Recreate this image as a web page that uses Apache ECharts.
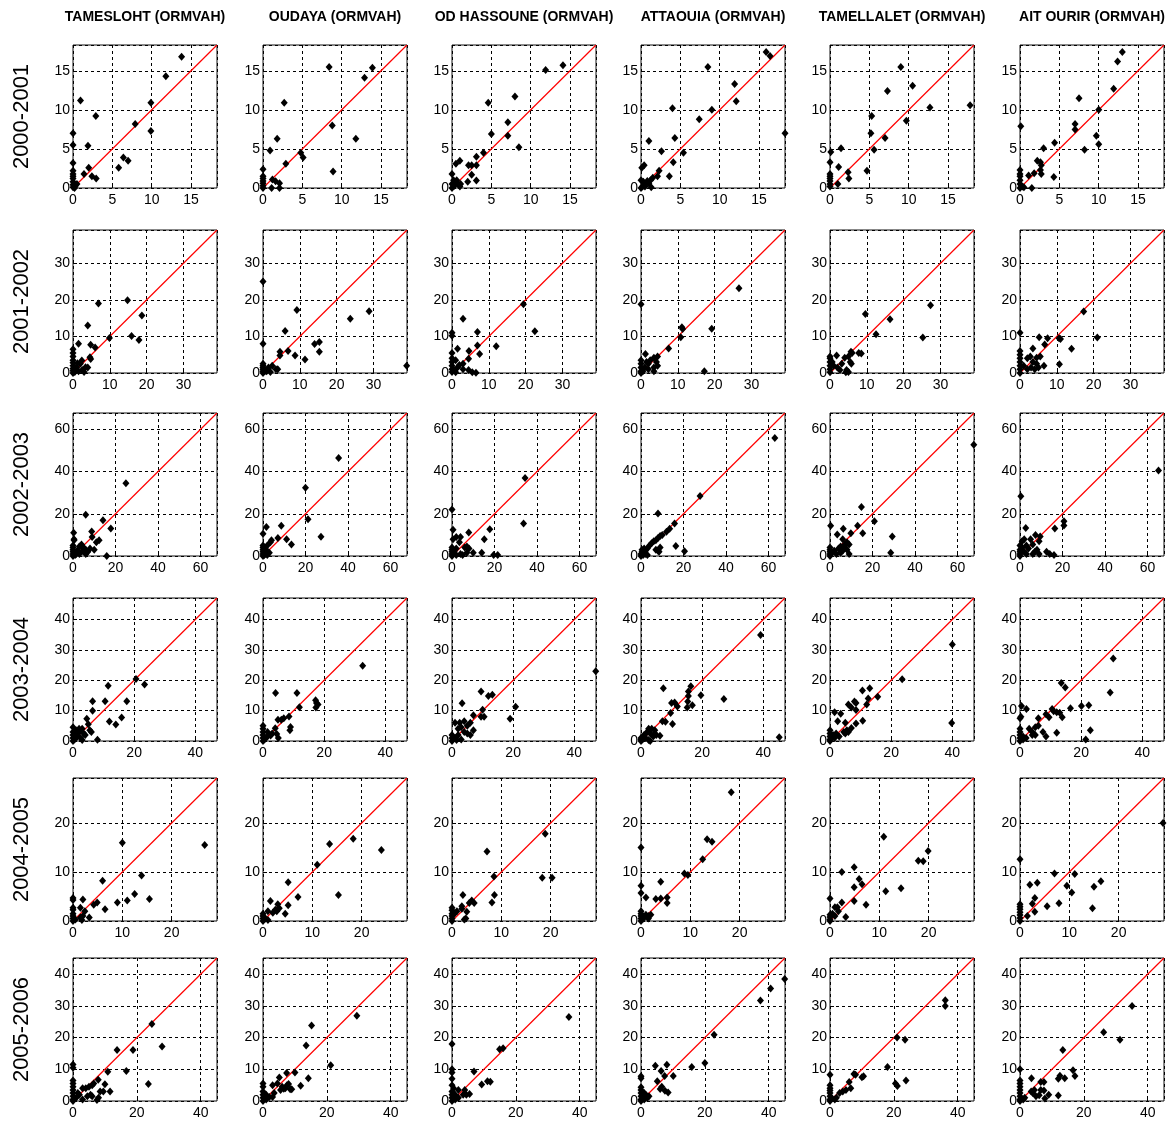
<!DOCTYPE html>
<html>
<head>
<meta charset="utf-8">
<script src="https://cdn.jsdelivr.net/npm/echarts@6/dist/echarts.min.js"></script>
<style>
html,body{margin:0;padding:0;background:#fff;}
#chart{width:1173px;height:1124px;}
</style>
</head>
<body>
<div id="chart"></div>
<script>
// ---- labels ----
const stations = ['TAMESLOHT (ORMVAH)','OUDAYA (ORMVAH)','OD HASSOUNE (ORMVAH)','ATTAOUIA (ORMVAH)','TAMELLALET (ORMVAH)','AIT OURIR (ORMVAH)'];
const years = ['2000-2001','2001-2002','2002-2003','2003-2004','2004-2005','2005-2006'];
// axis extent per row and tick steps
const axisMax = [18.3, 39.1, 67.8, 47.1, 29.2, 45.1];
const xTickStep = [5, 10, 20, 20, 10, 20];
const yTickStep = [5, 10, 20, 10, 10, 10];

// ---- 2000-2001 ----
const TAM_0001 = [[13.8,16.8],[11.8,14.3],[0.95,11.2],[2.9,9.2],[7.9,8.2],[9.9,10.9],[9.9,7.3],[0,7.0],[0,5.5],[1.9,5.4],[5.8,2.6],[6.4,3.9],[7.0,3.5],[2.0,2.6],[2.4,1.5],[2.95,1.2],[1.4,1.8],[0,3.2],[0,2.2],[0,1.8],[0,1.5],[0,1.2],[0,0.8],[0,0.4],[0,0.1],[0.3,0.3],[0.5,0.5],[0.2,0]];
const OUD_0001 = [[8.4,15.5],[13.9,15.4],[12.9,14.1],[2.7,10.9],[8.8,8.0],[11.8,6.3],[8.9,2.1],[1.8,6.3],[0.9,4.8],[4.8,4.5],[5.1,3.9],[2.9,3.1],[1.2,1.1],[1.6,0.85],[2.1,0.6],[2.1,0],[1.1,0],[0,2.4],[0,1.5],[0,1.2],[0,0.9],[0,0.6],[0,0.3],[0,0]];
const ODH_0001 = [[11.9,15.1],[14.1,15.7],[4.6,10.9],[8.0,11.7],[7.1,8.4],[7.1,6.7],[8.5,5.2],[5.0,6.9],[4.0,4.5],[3.1,4.0],[3.1,2.9],[2.1,2.9],[2.5,2.9],[2.5,1.7],[2.0,0.8],[3.1,0.95],[0.5,3.1],[1.0,3.5],[0,1.8],[0.2,1.0],[0.5,0.8],[0.8,0.5],[1.0,0.2],[0.3,0.3],[0.6,1.0],[0,0.5],[0,0],[1.1,0.5]];
const ATT_0001 = [[15.9,17.4],[16.4,16.9],[8.5,15.5],[11.9,13.3],[12.1,11.1],[4.0,10.2],[9.0,10.0],[7.4,8.8],[18.3,7.0],[4.3,6.4],[1.0,6.0],[2.6,4.7],[5.4,4.5],[4.1,3.3],[3.6,1.5],[2.3,2.2],[2.1,1.5],[0.4,2.9],[0.1,2.6],[0,1.0],[0.3,0.8],[0.6,0.5],[0.8,0.9],[1.0,0.6],[1.2,1.0],[1.5,1.3],[1.3,0.1],[0.5,0.2],[0.2,0.2],[0,0]];
const TML_0001 = [[9.0,15.5],[7.3,12.4],[10.5,13.1],[12.7,10.3],[17.8,10.6],[9.7,8.6],[5.3,9.2],[5.2,7.0],[7.0,6.4],[5.6,4.9],[1.4,5.1],[0.1,4.6],[0,3.3],[1.1,2.7],[4.7,2.2],[2.3,2.0],[2.4,1.2],[1.0,0.5],[0,1.8],[0,1.5],[0,1.2],[0,0.9],[0,0.5],[0,0.2]];
const AIT_0001 = [[13.0,17.4],[12.4,16.2],[11.9,12.7],[7.5,11.5],[10.0,10.0],[7.0,8.2],[7.0,7.5],[9.7,6.7],[10.0,5.6],[8.2,4.9],[0.1,7.9],[4.4,5.8],[3.0,5.1],[2.2,3.5],[2.6,3.3],[2.7,2.9],[2.6,2.3],[2.7,1.8],[4.3,1.4],[1.8,1.9],[1.1,1.6],[1.5,0],[0,2.3],[0,1.8],[0,1.5],[0,1.0],[0,0.5],[0.3,0.2],[0.5,0.1],[0,0]];

// ---- 2001-2002 ----
const TAM_0102 = [[6.9,19.0],[14.8,19.9],[18.7,15.7],[15.9,10.1],[17.9,9.0],[9.9,9.6],[4.0,13.0],[1.5,8.0],[4.8,7.7],[6.0,7.0],[4.6,4.3],[4.8,3.8],[2.4,3.4],[3.4,1.6],[4.0,1.5],[2.0,2.5],[1.2,2.7],[1.0,1.5],[2.5,0.8],[1.5,0.5],[3.0,0.3],[0,6.5],[0,5.5],[0,4.5],[0,3.5],[0,2.8],[0,2.0],[0,1.2],[0,0.6],[0.5,0.3],[0.3,1.0],[0,0]];
const OUD_0102 = [[0,25.0],[9.2,17.2],[28.8,16.9],[23.7,14.8],[6.0,11.5],[0,8.0],[14.0,7.9],[15.3,8.5],[15.3,5.8],[6.8,6.0],[4.6,5.8],[4.6,4.8],[8.7,4.8],[11.4,3.7],[39.0,2.0],[2.5,2.0],[3.5,1.0],[1.5,1.5],[1.0,0.5],[2.0,0.3],[0,2.5],[0,2.0],[0,1.5],[0,1.0],[0,0.5],[0.5,0.5],[0,0],[4.0,1.0]];
const ODH_0102 = [[3.0,14.8],[19.4,18.8],[22.5,11.4],[0,11.0],[0,10.2],[6.9,11.2],[6.9,7.5],[12.0,7.3],[1.5,6.6],[4.6,6.0],[7.5,5.2],[4.5,3.9],[0,5.5],[1.0,3.5],[2.0,2.2],[3.0,2.5],[4.5,0.8],[5.5,0.2],[6.5,0.1],[3.0,1.0],[1.5,1.5],[0,4.0],[0,3.0],[0,2.0],[0,1.0],[0,0.3],[0.5,0.8],[1.0,0.2]];
const ATT_0102 = [[0,18.8],[26.6,23.2],[19.2,12.1],[11.1,12.5],[11.3,12.0],[10.8,9.8],[7.5,6.7],[17.2,0.5],[1.2,5.2],[4.5,4.5],[3.5,4.2],[4.2,3.0],[4.5,2.0],[3.5,1.5],[3.5,0.5],[2.5,3.5],[2.0,2.5],[1.5,3.0],[1.0,1.5],[2.0,1.0],[0.5,0.5],[0,3.5],[0,2.5],[0,1.5],[0,0.5],[0,0]];
const TML_0102 = [[9.6,16.1],[16.3,14.7],[27.3,18.5],[12.5,10.6],[25.2,9.7],[5.7,5.8],[7.8,5.5],[8.5,5.3],[1.8,4.8],[4.0,4.2],[5.0,4.5],[3.2,2.5],[2.0,1.5],[2.7,0.8],[4.5,0.8],[4.3,0.2],[5.0,0.3],[5.5,3.0],[5.8,2.5],[6.0,5.5],[0,4.5],[0,4.0],[0,3.0],[0,2.0],[0,1.0],[0,0.2],[1.0,2.0],[0.6,3.0]];
const AIT_0102 = [[0,11.0],[17.3,16.8],[21.0,9.7],[14.0,6.6],[10.6,9.5],[11.0,9.3],[10.7,2.4],[7.5,9.5],[5.2,9.8],[6.7,7.8],[3.5,6.7],[5.5,4.5],[4.5,4.2],[2.8,4.5],[2.0,4.0],[3.5,3.0],[4.5,2.5],[5.0,1.5],[6.5,2.0],[3.0,1.5],[2.0,1.0],[1.0,2.0],[4.0,1.0],[0,6.0],[0,5.0],[0,4.0],[0,3.0],[0,2.0],[0,1.0],[0,0]];

// ---- 2002-2003 ----
const TAM_0203 = [[24.9,34.5],[6.0,19.6],[14.1,17.0],[17.8,13.0],[8.8,11.6],[9.0,9.0],[12.3,7.5],[11.0,6.5],[15.9,0],[0.3,11.0],[0.5,8.0],[0.5,7.5],[3.0,4.5],[4.0,5.5],[5.0,4.0],[6.0,3.0],[7.0,2.0],[2.0,2.5],[1.5,1.0],[3.0,1.0],[6.0,1.0],[4.5,2.5],[8.0,3.5],[10.0,3.0],[0,5.0],[0,4.0],[0,3.0],[0,2.0],[0,1.0],[0,0],[1.0,0.5]];
const OUD_0203 = [[35.6,46.5],[20.0,32.3],[21.2,17.4],[27.3,9.1],[8.6,14.3],[1.6,13.8],[0,10.5],[11.1,8.0],[13.4,5.5],[7.0,8.5],[4.0,7.5],[3.5,6.5],[2.0,5.0],[1.5,3.0],[3.0,1.5],[1.0,1.0],[2.0,0.5],[0.5,0.3],[0,5.0],[0,4.0],[0,3.0],[0,2.0],[0,1.0],[0,0]];
const ODH_0203 = [[0,22.0],[34.4,37.0],[33.7,15.4],[17.8,12.7],[15.2,8.0],[7.9,11.1],[0.5,12.5],[0.5,8.0],[2.0,9.0],[4.0,9.0],[3.5,6.5],[6.0,4.0],[7.0,4.5],[8.0,3.5],[2.0,3.5],[1.0,2.0],[4.0,1.0],[7.0,1.5],[10.0,1.5],[14.0,1.5],[19.6,0.5],[21.5,0.5],[0,4.0],[0,3.0],[0,2.0],[0,1.0],[0,0],[2.0,0.5],[5.0,0.5]];
const ATT_0203 = [[63.0,55.9],[27.8,28.4],[8.0,20.1],[15.8,15.4],[16.4,4.7],[20.5,2.2],[13.5,12.9],[12.0,11.5],[10.0,10.0],[9.0,9.5],[8.0,8.5],[7.0,7.5],[6.0,7.0],[5.0,6.0],[4.0,5.0],[3.0,3.5],[2.0,2.5],[1.0,1.5],[8.0,2.5],[7.0,3.0],[9.0,4.0],[2.0,1.0],[3.0,0.5],[0.5,3.0],[0.5,2.0],[0,1.0],[0,0],[1.0,0.5],[1.5,3.5],[8.5,2.0]];
const TML_0203 = [[67.7,52.7],[14.8,23.2],[20.9,16.5],[15.4,10.8],[13.0,14.4],[29.3,9.3],[28.6,1.6],[0.3,14.3],[6.25,12.9],[9.8,10.8],[3.4,10.2],[6.0,8.0],[8.0,6.5],[7.0,5.5],[5.0,4.5],[4.0,3.5],[6.0,2.5],[8.0,3.0],[9.0,1.0],[5.0,1.5],[3.0,1.0],[2.0,2.5],[1.0,1.5],[0,4.0],[0,3.0],[0,2.0],[0,1.0],[0,0],[7.0,4.0],[9.0,5.5]];
const AIT_0203 = [[0.4,28.3],[65.2,40.5],[20.7,16.5],[20.7,14.5],[16.4,13.0],[2.7,13.3],[7.3,10.0],[9.5,9.3],[2.0,8.0],[5.0,8.0],[9.0,7.0],[6.0,5.5],[3.0,5.0],[1.0,7.0],[4.0,3.5],[8.0,3.0],[9.0,1.0],[12.5,2.0],[14.0,1.0],[16.0,0.5],[2.0,2.0],[3.0,1.0],[6.0,1.0],[1.0,4.0],[0,5.0],[0,3.0],[0,2.0],[0,1.0],[0,0],[7.0,2.0]];

// ---- 2003-2004 ----
const TAM_0304 = [[20.6,20.4],[23.4,18.6],[11.5,18.2],[6.4,13.1],[10.5,13.1],[17.6,13.1],[6.4,10.0],[11.9,6.4],[14.0,5.4],[15.9,7.7],[4.5,7.3],[5.0,5.5],[8.0,0.4],[0,4.5],[1.0,3.5],[2.0,3.0],[3.0,4.0],[3.5,2.5],[4.0,2.0],[5.5,3.5],[6.0,3.0],[2.5,1.0],[3.0,0.3],[1.5,1.5],[0,3.0],[0,2.0],[0,1.0],[0,0],[0.5,0.5],[1.0,2.3],[2.0,4.0]];
const OUD_0304 = [[32.6,24.8],[4.1,15.8],[11.1,15.8],[11.9,11.1],[17.2,13.4],[17.5,12.5],[18.0,12.0],[17.3,11.0],[8.5,8.1],[6.8,7.5],[4.9,7.0],[6.0,7.0],[9.0,4.6],[8.8,3.5],[4.0,4.2],[4.5,2.3],[5.0,1.0],[3.0,2.5],[2.5,1.8],[1.5,1.5],[1.5,3.0],[0,5.0],[0,4.0],[0,3.0],[0,2.0],[0,1.0],[0,0],[0.5,0.5]];
const ODH_0304 = [[47.0,23.0],[9.5,16.3],[11.9,14.8],[13.2,15.2],[3.3,12.4],[19.0,7.3],[20.8,11.3],[10.0,10.3],[9.5,8.0],[10.5,8.0],[7.0,8.5],[6.0,6.0],[4.0,6.5],[5.0,5.0],[3.0,4.5],[2.0,4.0],[1.0,6.0],[2.5,6.0],[4.0,3.0],[7.0,3.5],[6.0,2.0],[5.0,2.5],[2.0,2.0],[3.0,0.5],[1.0,1.0],[0,2.0],[0,1.0],[0,0],[1.5,0.3]];
const ATT_0304 = [[39.1,34.9],[45.2,1.2],[7.3,17.4],[16.3,18.0],[15.5,16.3],[15.5,14.8],[15.3,13.0],[15.1,11.0],[16.8,11.8],[19.6,15.1],[27.1,13.8],[11.9,11.4],[10.0,12.5],[11.0,12.7],[9.7,9.2],[10.3,5.6],[7.0,6.5],[8.0,6.3],[6.2,1.7],[4.5,3.5],[3.5,4.0],[2.5,4.0],[2.0,3.0],[3.0,2.5],[4.5,2.5],[4.0,1.5],[5.0,2.0],[2.5,0.3],[3.0,0],[1.0,2.0],[1.5,1.0],[0,1.0],[0,0.5],[0.5,0.5],[0,0]];
const TML_0304 = [[40.0,31.8],[39.8,5.9],[23.6,20.3],[15.6,14.6],[13.0,17.4],[10.6,16.6],[12.0,12.0],[12.5,14.0],[8.0,13.0],[8.5,12.5],[6.0,12.0],[7.0,11.0],[8.5,10.2],[10.7,6.7],[8.5,5.8],[7.0,4.3],[5.0,6.0],[5.5,3.5],[4.5,3.0],[5.0,2.5],[6.0,3.0],[3.5,9.0],[1.5,9.5],[2.5,6.5],[3.0,1.5],[1.5,1.0],[0,3.5],[0,2.5],[0,1.5],[0,0.5],[0,0],[1.0,2.0],[2.0,2.5]];
const AIT_0304 = [[30.5,27.2],[29.5,16.0],[13.5,19.1],[14.8,17.6],[20.1,11.5],[22.5,11.8],[23.0,3.5],[21.5,0.5],[16.5,10.8],[13.8,7.8],[13.0,9.3],[12.0,9.5],[10.5,10.5],[11.0,9.8],[9.5,7.8],[8.5,8.8],[12.0,2.7],[8.5,1.5],[7.5,3.0],[6.0,7.5],[5.0,4.5],[4.0,3.0],[3.0,4.0],[4.0,2.0],[5.0,2.0],[6.0,5.0],[2.1,10.5],[0.5,11.5],[0,7.5],[0.3,8.0],[0,4.0],[0,3.0],[0,2.0],[0,1.0],[0,0],[1.0,1.5],[2.0,1.0],[1.0,0.5]];

// ---- 2004-2005 ----
const TAM_0405 = [[10.0,16.0],[26.7,15.5],[6.0,8.2],[13.9,9.3],[12.5,5.5],[11.0,4.2],[9.0,3.8],[15.5,4.5],[4.9,3.8],[4.2,3.3],[6.5,2.4],[2.0,4.4],[2.4,2.0],[3.3,0.7],[1.5,2.7],[1.5,0.7],[1.8,0.2],[0,4.7],[0,4.3],[0,2.7],[0,2.3],[0,1.5],[0,1.0],[0,0.5],[0,0],[0.5,0.3],[2.0,1.0]];
const OUD_0405 = [[13.5,15.7],[18.3,16.8],[24.0,14.5],[11.0,11.5],[15.3,5.3],[5.1,7.9],[7.1,4.9],[5.1,3.2],[4.5,1.5],[3.0,3.4],[3.3,2.6],[1.5,4.1],[2.5,2.3],[2.0,1.7],[1.0,2.0],[1.0,0.2],[0,1.5],[0,1.0],[0,0.5],[0,0],[0.5,0.5],[2.8,2.0]];
const ODH_0405 = [[7.1,14.2],[18.9,17.8],[18.3,8.85],[20.3,8.85],[8.5,9.1],[8.6,5.3],[8.1,3.8],[2.2,5.3],[4.0,4.2],[4.5,3.7],[3.5,3.7],[3.0,1.9],[2.5,0.3],[2.8,0.5],[2.0,3.0],[2.0,2.5],[1.0,2.0],[0.5,1.5],[0,2.7],[0,2.2],[0,1.5],[0,1.0],[0,0.5],[0,0]];
const ATT_0405 = [[18.3,26.3],[13.4,16.7],[14.4,16.2],[12.5,12.6],[8.8,9.7],[9.5,9.4],[0,15.0],[0,7.2],[0,5.7],[4.0,8.0],[1.0,4.8],[3.0,4.5],[4.0,4.6],[5.3,4.8],[5.3,3.7],[2.0,1.3],[1.5,1.0],[1.5,0.5],[1.0,1.3],[0,2.0],[0,1.5],[0,1.0],[0,0.5],[0,0],[0.5,0.5]];
const TML_0405 = [[10.9,17.2],[4.9,11.0],[2.4,10.0],[5.9,8.6],[6.5,7.5],[4.9,6.9],[17.9,12.3],[18.9,12.2],[19.9,14.3],[11.3,6.1],[14.4,6.7],[7.3,3.3],[4.9,4.1],[2.4,3.8],[3.2,0.8],[1.0,2.8],[1.5,2.8],[1.7,2.0],[0.5,1.5],[0,4.6],[0,1.3],[0,0.8],[0,0.3],[0,0],[1.0,1.0]];
const AIT_0405 = [[0,12.6],[29.0,20.0],[7.0,9.7],[11.1,9.6],[9.5,7.2],[10.5,5.8],[15.0,7.0],[16.4,8.1],[14.7,2.6],[2.0,7.4],[3.5,7.8],[7.9,3.6],[5.5,3.0],[3.0,4.7],[2.5,3.5],[3.0,1.9],[1.5,1.0],[0,3.4],[0,2.9],[0,2.4],[0,1.8],[0,1.2],[0,0.6],[0,0]];

// ---- 2005-2006 ----
const TAM_0506 = [[24.7,24.3],[27.9,17.2],[18.8,16.1],[13.8,16.1],[16.7,9.5],[23.6,5.4],[10.9,9.2],[11.6,3.0],[10.0,5.3],[7.9,6.7],[8.5,3.0],[9.5,3.0],[6.5,5.5],[6.0,5.0],[5.0,4.5],[4.0,4.0],[3.0,4.0],[5.5,2.0],[4.5,1.5],[6.0,1.5],[8.0,1.0],[7.5,0.3],[3.0,0.5],[2.0,2.0],[1.5,2.5],[0,11.5],[0,10.5],[0,6.5],[0,5.5],[0,4.5],[0,3.5],[0,2.5],[0,1.5],[0,0.5],[0,0],[1.0,1.0]];
const OUD_0506 = [[29.4,26.9],[15.2,23.8],[13.5,17.5],[21.2,11.3],[14.2,7.2],[11.8,4.8],[10.0,9.0],[7.4,8.8],[8.0,5.4],[7.5,5.0],[5.1,7.4],[4.5,5.5],[6.0,4.5],[5.5,3.5],[7.0,4.0],[8.5,3.7],[9.0,3.7],[6.5,3.9],[3.5,2.5],[3.0,1.3],[3.0,5.0],[2.0,1.3],[1.0,2.0],[0,5.5],[0,4.5],[0,3.0],[0,2.0],[0,1.0],[0,0],[1.0,0.5],[0.5,1.5]];
const ODH_0506 = [[36.6,26.5],[14.9,16.3],[16.0,16.6],[0,18.0],[6.9,9.3],[9.3,5.2],[11.1,6.2],[12.0,6.1],[0,10.0],[0,9.0],[0,7.0],[0.5,4.0],[0,5.0],[0,3.0],[0,2.0],[0,1.0],[0,0],[2.0,3.5],[4.0,3.5],[4.5,2.0],[5.5,2.2],[3.5,2.0],[2.0,1.0],[1.0,0.5],[1.0,2.0]];
const ATT_0506 = [[45.0,38.5],[40.6,35.5],[37.4,31.7],[22.9,20.9],[20.0,12.0],[15.9,10.7],[4.5,11.1],[8.1,11.4],[6.3,9.5],[7.4,7.9],[10.1,7.9],[5.1,6.2],[6.5,4.5],[6.0,3.8],[7.5,3.2],[8.5,2.7],[0,7.8],[0,7.2],[0,4.3],[0,3.5],[0,2.5],[0,1.5],[0,0.5],[0,0],[1.0,2.5],[1.5,2.0],[2.0,1.0],[2.5,1.5],[1.0,0.5]];
const TML_0506 = [[36.1,31.8],[36.1,30.0],[21.0,20.0],[23.5,19.3],[18.0,10.7],[20.5,5.5],[21.1,4.7],[23.8,6.5],[10.0,7.5],[10.5,7.8],[7.5,8.5],[8.0,8.3],[6.0,6.0],[6.5,4.0],[5.0,3.5],[4.0,3.0],[3.0,2.5],[2.0,1.0],[1.5,0.5],[0,8.3],[0,5.0],[0,4.0],[0,3.3],[0,2.5],[0,1.5],[0,0.5],[0,0],[0.5,1.0]];
const AIT_0506 = [[35.1,30.0],[26.2,21.7],[31.3,19.3],[13.4,16.1],[16.6,9.7],[17.2,7.9],[12.5,8.0],[12.0,7.0],[14.0,7.2],[12.0,1.7],[0,10.0],[3.6,7.2],[6.5,6.0],[7.5,6.0],[7.8,0.8],[9.0,2.0],[6.5,3.5],[7.5,3.3],[6.0,1.8],[5.0,1.5],[4.5,3.5],[3.5,3.0],[4.0,2.5],[1.5,1.0],[1.0,0.5],[0,6.5],[0,5.5],[0,4.5],[0,3.5],[0,2.5],[0,1.5],[0,0.5],[0,0]];

const panels = [
  [TAM_0001, OUD_0001, ODH_0001, ATT_0001, TML_0001, AIT_0001],
  [TAM_0102, OUD_0102, ODH_0102, ATT_0102, TML_0102, AIT_0102],
  [TAM_0203, OUD_0203, ODH_0203, ATT_0203, TML_0203, AIT_0203],
  [TAM_0304, OUD_0304, ODH_0304, ATT_0304, TML_0304, AIT_0304],
  [TAM_0405, OUD_0405, ODH_0405, ATT_0405, TML_0405, AIT_0405],
  [TAM_0506, OUD_0506, ODH_0506, ATT_0506, TML_0506, AIT_0506]
];

// ---- layout ----
const colLeft = [73, 263, 452, 641, 830, 1020];
const rowTop = [45, 230, 413, 598, 778, 958];
const boxW = 144, boxH = 143;
const FONT = 'Liberation Sans, Arial, sans-serif';

const grids = [], xAxes = [], yAxes = [], series = [], graphics = [];

function fmt(step) {
  return function (v) {
    const k = v / step;
    return Math.abs(k - Math.round(k)) < 1e-6 ? String(Math.round(v)) : '';
  };
}

for (let r = 0; r < 6; r++) {
  for (let c = 0; c < 6; c++) {
    const i = r * 6 + c;
    const m = axisMax[r];
    grids.push({left: colLeft[c], top: rowTop[r], width: boxW, height: boxH,
      show: true, borderColor: '#111', borderWidth: 1, backgroundColor: '#fff'});
    const common = {
      gridIndex: i, type: 'value', min: 0, max: m,
      axisLine: {show: false},
      axisTick: {show: true, inside: true, length: 4, lineStyle: {color: '#000'}},
      splitLine: {show: true, lineStyle: {color: '#000', type: [3, 3], width: 1}},
      axisLabel: {color: '#000', fontSize: 14, fontFamily: FONT, showMaxLabel: false}
    };
    xAxes.push(Object.assign({}, common, {interval: xTickStep[r],
      axisLabel: Object.assign({}, common.axisLabel, {margin: 5, formatter: fmt(xTickStep[r])})}));
    yAxes.push(Object.assign({}, common, {interval: yTickStep[r],
      axisLabel: Object.assign({}, common.axisLabel, {margin: 3, formatter: fmt(yTickStep[r])})}));
    series.push({type: 'line', xAxisIndex: i, yAxisIndex: i, data: [[0, 0], [m, m]],
      symbol: 'none', silent: true, color: '#ff0000',
      lineStyle: {color: '#ff0000', width: 1.2, opacity: 1}, z: 4});
    series.push({type: 'scatter', xAxisIndex: i, yAxisIndex: i, data: panels[r][c],
      symbol: 'diamond', symbolSize: [7, 8], clip: false,
      itemStyle: {color: '#000', opacity: 1}, z: 5});
  }
}

for (let c = 0; c < 6; c++) {
  graphics.push({type: 'text', x: colLeft[c] + boxW / 2, y: 17,
    style: {text: stations[c], fill: '#000', font: 'bold 14px ' + FONT,
      textAlign: 'center', textVerticalAlign: 'middle'}});
}
for (let r = 0; r < 6; r++) {
  graphics.push({type: 'text', x: 22, y: rowTop[r] + boxH / 2, rotation: Math.PI / 2,
    style: {text: years[r], fill: '#000', font: '22px ' + FONT,
      textAlign: 'center', textVerticalAlign: 'middle'}});
}

const chart = echarts.init(document.getElementById('chart'), null, {renderer: 'canvas'});
chart.setOption({
  animation: false,
  backgroundColor: '#fff',
  grid: grids, xAxis: xAxes, yAxis: yAxes, series: series, graphic: graphics
});
</script>
</body>
</html>
